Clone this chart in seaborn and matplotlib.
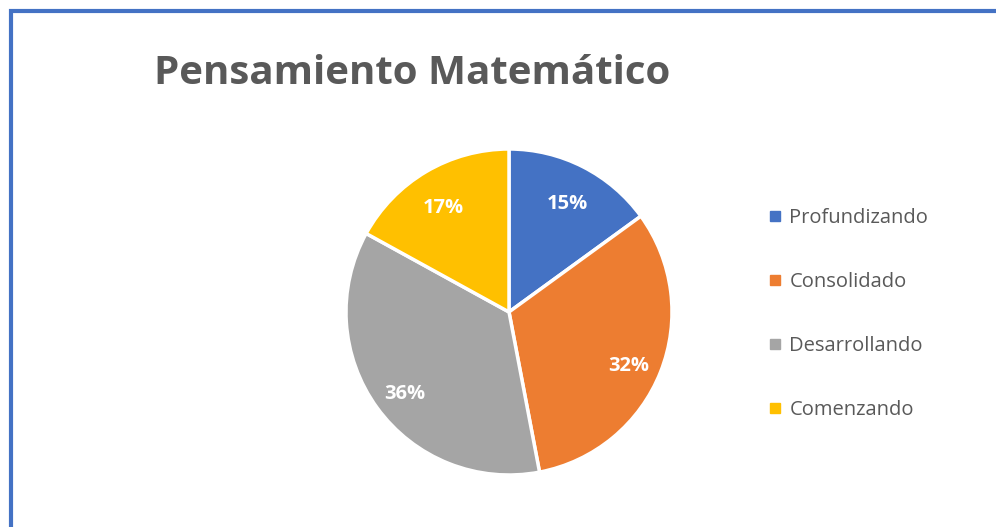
import matplotlib.pyplot as plt
import seaborn as sns
from matplotlib.patches import Rectangle
from matplotlib.lines import Line2D

# data
categories = ['Profundizando', 'Consolidado', 'Desarrollando', 'Comenzando']
values = [15, 32, 36, 17]
colors = ['#4472C4', '#ED7D31', '#A5A5A5', '#FFC000']
title = 'Pensamiento Matemático'

sns.set_theme(style='white')
plt.rcParams['font.family'] = ['Open Sans', 'DejaVu Sans']

W, H = 996, 527
fig = plt.figure(figsize=(W / 100, H / 100), dpi=100)

# frame (right / bottom edges are cut off in the original)
fig.patches.append(Rectangle((10.5 / W, -0.1), 1.2, (H - 10.5) / H + 0.1,
                             transform=fig.transFigure, fill=False,
                             edgecolor='#4472C4', linewidth=3))

cx, cy, r = 509, 312, 163
ax = fig.add_axes([(cx - r) / W, (H - cy - r) / H, 2 * r / W, 2 * r / H])
wedges, texts, autotexts = ax.pie(
    values, colors=colors, startangle=90, counterclock=False,
    autopct='%1.0f%%', pctdistance=0.79,
    wedgeprops=dict(edgecolor='white', linewidth=2.5),
    textprops=dict(color='white', fontsize=14.5, fontweight='bold'))
# labels sit a touch lower in the original
for t in autotexts:
    x, y = t.get_position()
    t.set_position((x, y - 0.04))
ax.set_xlim(-1.0, 1.0)
ax.set_ylim(-1.0, 1.0)
ax.set_aspect('equal')

fig.text(412 / W, 1 - 74 / H, title, ha='center', va='center',
         fontsize=29, fontweight='bold', color='#595959')

handles = [Line2D([], [], marker='s', linestyle='', markersize=7,
                  markerfacecolor=c, markeredgecolor=c) for c in colors]
fig.legend(handles, categories, loc='upper left',
           bbox_to_anchor=(747 / W, 1 - 190 / H), frameon=False,
           fontsize=14.5, labelcolor='#595959', handletextpad=0.2,
           handlelength=1.0, labelspacing=2.19)

fig.savefig('out.png', dpi=100, facecolor='white')
